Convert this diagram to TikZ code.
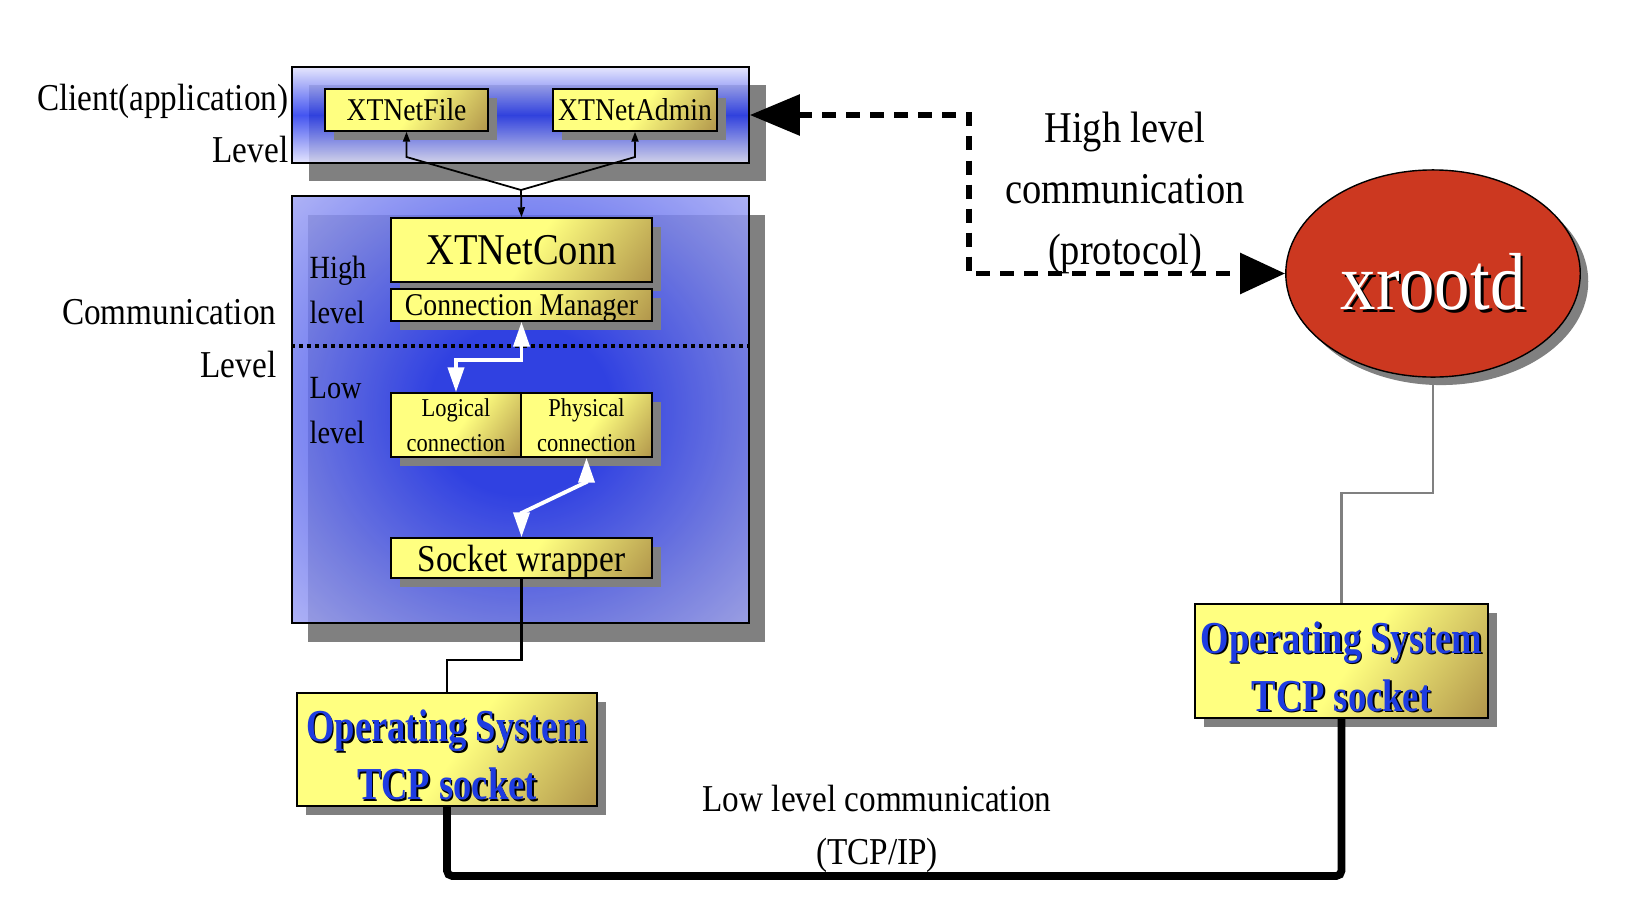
\documentclass[tikz,border=0pt]{standalone}
\usepackage{fontspec}
\setmainfont[FakeStretch=0.875]{Liberation Serif}
\newfontfamily\osfont[FakeStretch=0.8]{Liberation Serif}
\usepackage{tikz}
\usetikzlibrary{calc, arrows.meta, shapes.geometric, shadows}
\usepackage{xcolor}
\definecolor{boxYellow}{RGB}{255, 255, 128}
\definecolor{boxBrown}{RGB}{140, 100, 50}
\definecolor{clientBlue}{RGB}{35, 55, 238}
\definecolor{clientPale}{RGB}{225, 225, 252}
\definecolor{commBlue}{RGB}{35, 55, 242}
\definecolor{commMid}{RGB}{115, 125, 240}
\definecolor{commPale}{RGB}{200, 200, 247}
\definecolor{xrdRed}{RGB}{204, 56, 32}
\definecolor{osBlue}{RGB}{30, 60, 225}
\definecolor{shadowGray}{RGB}{128, 128, 128}
\pgfdeclarehorizontalshading{yelbrn}{100bp}{color(0bp)=(boxYellow); color(52bp)=(boxYellow); color(100bp)=(boxBrown)}
\pgfdeclareradialshading{commglow}{\pgfpoint{0bp}{0bp}}{color(0bp)=(commBlue); color(10bp)=(commBlue); color(26bp)=(commMid); color(44bp)=(commPale); color(71bp)=(white!80!commPale)}
\newcommand{\shadowtxt}[2]{\raisebox{-0.12em}[\height][\depth]{\makebox[0pt][l]{\hspace{0.035em}\raisebox{-0.035em}{\color{black}#2}}\textcolor{#1}{#2}}}

\begin{document}
\begin{tikzpicture}[x=0.01cm, y=-0.01cm,
  lbl/.style={inner sep=0pt},
  ybox/.style={draw, thin, shade, shading=yelbrn, shading angle=-35, inner sep=0pt, align=center, text depth=0pt,
    drop shadow={shadow xshift=0.9mm, shadow yshift=-0.9mm, opacity=1, fill=shadowGray}},
  tinyarrow/.style={line width=0.5pt, -{Triangle[length=1mm, width=0.7mm]}},
  whitearrow/.style={white, line width=1.1pt, {Triangle[length=2.5mm, width=1.6mm]}-{Triangle[length=2.5mm, width=1.6mm]}},
  protoarrow/.style={line width=1.7pt, dash pattern=on 0.14cm off 0.1cm, {Triangle[length=5mm, width=4mm]}-{Triangle[length=4.5mm, width=4mm]}},
  tcpline/.style={line width=2.2pt, rounded corners=1.5pt}]
  \useasboundingbox (0,0) rectangle (1640,918);

  % Client level
  \node[draw, thin, top color=clientPale, bottom color=clientPale, middle color=clientBlue, fill opacity=0.85,
    minimum width=4.57cm, minimum height=0.96cm,
    drop shadow={shadow xshift=1.7mm, shadow yshift=-1.8mm, opacity=1, fill=shadowGray}] (client) at (520.5,115) {};
  \node[ybox, minimum width=1.63cm, minimum height=0.42cm, font=\fontsize{9}{11}\selectfont] (netfile) at (406.5,110) {XTNetFile};
  \node[ybox, minimum width=1.64cm, minimum height=0.42cm, font=\fontsize{9}{11}\selectfont] (netadmin) at (635,110) {XTNetAdmin};

  % Communication level
  \node[draw, thin, shade, shading=commglow, fill opacity=0.85, minimum width=4.57cm, minimum height=4.27cm,
    drop shadow={shadow xshift=1.6mm, shadow yshift=-1.9mm, opacity=1, fill=shadowGray}] (comm) at (520.5,409.5) {};
  \draw[line width=1pt, dash pattern=on 0.04cm off 0.04cm] (comm.west |- 0,346) -- (comm.east |- 0,346);
  \node[ybox, minimum width=2.61cm, minimum height=0.64cm, font=\fontsize{12.5}{14}\selectfont] (netconn) at (521.5,250) {XTNetConn};
  \node[ybox, minimum width=2.61cm, minimum height=0.32cm, font=\fontsize{9}{11}\selectfont] (connmgr) at (521.5,305) {Connection Manager};
  \node[ybox, minimum width=1.30cm, minimum height=0.64cm, font=\fontsize{7.3}{10}\selectfont] (logconn) at (456,425) {Logical\\connection};
  \node[ybox, minimum width=1.31cm, minimum height=0.64cm, font=\fontsize{7.3}{10}\selectfont] (physconn) at (586.5,425) {Physical\\connection};
  \node[ybox, minimum width=2.61cm, minimum height=0.40cm, font=\fontsize{10.8}{13}\selectfont] (sockwrap) at (521.5,558) {Socket wrapper};

  % Labels
  \node[lbl, anchor=east, align=right, font=\fontsize{10.8}{15}\selectfont] (clientlbl) at (289,123.5) {Client(application)\\Level};
  \node[lbl, anchor=east, align=right, font=\fontsize{10.8}{15}\selectfont] (commlbl) at (277,338.5) {Communication\\Level};
  \node[lbl, anchor=west, align=left, font=\fontsize{9.2}{12.8}\selectfont] (highlbl) at (309,289.5) {High\\level};
  \node[lbl, anchor=west, align=left, font=\fontsize{9.2}{12.8}\selectfont] (lowlbl) at (309,411) {Low\\level};
  \node[lbl, align=center, font=\fontsize{12.5}{17.4}\selectfont] (protolbl) at (1125,193) {High level\\communication\\(protocol)};
  \node[lbl, align=center, font=\fontsize{10.8}{15}\selectfont] (tcplbl) at (877,828.5) {Low level communication\\(TCP/IP)};

  % Server and operating systems
  \node[ellipse, draw, thin, fill=xrdRed, minimum width=2.92cm, minimum height=2.07cm, font=\fontsize{23}{26}\selectfont,
    drop shadow={shadow xshift=0.8mm, shadow yshift=-0.8mm, opacity=1, fill=shadowGray}] (xrootd) at (1433,273.5) {\shadowtxt{white}{xrootd}};
  \node[ybox, minimum width=3.00cm, minimum height=1.13cm, font={\osfont\bfseries\fontsize{13}{16.5}\selectfont}] (osleft) at (447,749.5)
    {\shadowtxt{osBlue}{Operating System}\\\shadowtxt{osBlue}{TCP socket}};
  \node[ybox, minimum width=2.93cm, minimum height=1.14cm, font={\osfont\bfseries\fontsize{13}{16.5}\selectfont}] (osright) at (1341.5,661)
    {\shadowtxt{osBlue}{Operating System}\\\shadowtxt{osBlue}{TCP socket}};

  % Connectors
  \coordinate (split) at (521,190);
  \draw[tinyarrow] (split) -- (netfile.south |- 0,157) -- (netfile.south);
  \draw[tinyarrow] (split) -- (netadmin.south |- 0,157) -- (netadmin.south);
  \draw[tinyarrow] (split) -- (netconn.north);
  \draw[whitearrow] (connmgr.south) -- (connmgr.south |- 0,360) -- (logconn.north |- 0,360) -- (logconn.north);
  \draw[whitearrow] (physconn.south) -- (physconn.south |- 0,482) -- (sockwrap.north |- 0,513) -- (sockwrap.north);
  \draw[line width=0.6pt] (sockwrap.south) -- (sockwrap.south |- 0,660) -| (osleft.north);
  \draw[shadowGray, line width=0.6pt] (xrootd.south) -- (xrootd.south |- 0,493) -| (osright.north);
  \draw[protoarrow] (client.east) -| (xrootd.west -| 969,0) -- (xrootd.west);
  \draw[tcpline] (osleft.south) |- (osright.south |- 0,876) -- (osright.south);
\end{tikzpicture}
\end{document}
